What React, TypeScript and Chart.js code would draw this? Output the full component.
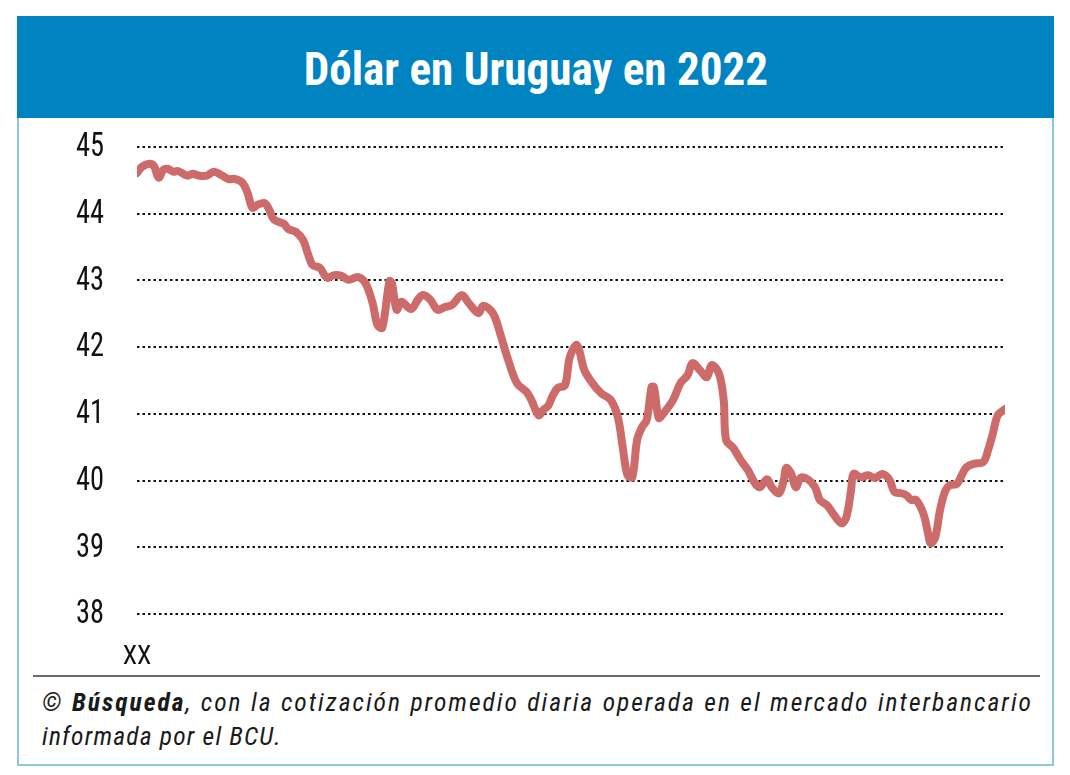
import React, { useEffect, useRef } from "react";
import { Chart, registerables } from "chart.js";

Chart.register(...registerables);

const TITLE = "Dólar en Uruguay en 2022";
const X_TICK_LABEL = "XX";
const Y_TICKS = [38, 39, 40, 41, 42, 43, 44, 45];

// day of year (2022)
const days = [
  3, 5, 8, 10, 12, 14, 16, 18, 20, 24, 26, 29, 32, 35, 38, 41, 44, 47, 49, 51,
  53, 56, 58, 60, 64, 66, 69, 72, 74, 76, 79, 82, 85, 88, 91, 95, 98, 101, 103, 105,
  108, 109, 111, 113, 117, 120, 122, 125, 128, 131, 134, 138, 141, 145, 147, 151, 154, 157, 161, 165,
  167, 170, 172, 174, 176, 178, 181, 183, 186, 189, 192, 196, 200, 203, 205, 207, 209, 211, 213, 215,
  217, 218, 220, 222, 226, 229, 232, 234, 237, 240, 242, 245, 247, 248, 251, 254, 257, 260, 262, 265,
  267, 270, 272, 273, 275, 277, 279, 282, 285, 287, 290, 293, 296, 298, 300, 301, 304, 307, 310, 313,
  316, 318, 321, 323, 325, 327, 330, 332, 333, 335, 337, 339, 341, 344, 346, 348, 351, 355, 357, 359,
  361, 364,
];

// average interbank rate (UYU per USD)
const rates = [
  44.61, 44.7, 44.75, 44.72, 44.54, 44.66, 44.67, 44.63, 44.64, 44.57, 44.6, 44.57, 44.57, 44.63, 44.58, 44.52, 44.52, 44.46, 44.31, 44.09,
  44.13, 44.16, 44.06, 43.91, 43.85, 43.77, 43.73, 43.61, 43.41, 43.23, 43.19, 43.04, 43.08, 43.07, 43.01, 43.05, 42.96, 42.66, 42.33, 42.29,
  42.99, 42.96, 42.56, 42.68, 42.57, 42.72, 42.78, 42.71, 42.56, 42.6, 42.63, 42.78, 42.66, 42.51, 42.62, 42.51, 42.21, 41.85, 41.46, 41.33,
  41.21, 40.98, 41.06, 41.12, 41.28, 41.39, 41.43, 41.85, 42.03, 41.66, 41.48, 41.31, 41.21, 40.95, 40.5, 40.08, 40.05, 40.61, 40.8, 40.91,
  41.4, 41.4, 40.94, 41.01, 41.21, 41.46, 41.58, 41.76, 41.66, 41.55, 41.73, 41.61, 41.21, 40.61, 40.49, 40.31, 40.16, 39.96, 39.9, 40.02,
  39.9, 39.81, 40.01, 40.19, 40.11, 39.9, 40.04, 40.02, 39.9, 39.71, 39.63, 39.48, 39.36, 39.45, 39.86, 40.1, 40.05, 40.08, 40.04, 40.1,
  40.01, 39.83, 39.81, 39.78, 39.71, 39.71, 39.51, 39.21, 39.06, 39.15, 39.56, 39.83, 39.93, 39.95, 40.08, 40.2, 40.25, 40.28, 40.46, 40.71,
  40.98, 41.07,
];

const COND = "'Roboto Condensed', 'Liberation Sans Narrow', 'DejaVu Sans Condensed', Roboto, sans-serif";

// draws the y tick labels (from the y scale) in a narrower, taller style
const condensedYLabels = {
  id: "condensedYLabels",
  afterDraw(chart: any) {
    const scale = chart.scales.y;
    const ctx = chart.ctx;
    ctx.save();
    ctx.font = `400 33px ${COND}`;
    ctx.fillStyle = "#111";
    ctx.textAlign = "right";
    ctx.textBaseline = "middle";
    for (const t of scale.ticks) {
      const py = scale.getPixelForValue(t.value);
      ctx.save();
      ctx.translate(scale.right - 33, py + 1);
      ctx.scale(0.86, 1);
      ctx.fillText(String(t.value), 0, 0);
      ctx.restore();
    }
    ctx.restore();
  },
};

export default function App() {
  const canvasRef = useRef<HTMLCanvasElement | null>(null);

  useEffect(() => {
    if (!canvasRef.current) return;
    const chart = new Chart(canvasRef.current, {
      type: "line",
      data: {
        datasets: [
          {
            data: days.map((d, i) => ({ x: d, y: rates[i] })),
            borderColor: "#cd6b6b",
            borderWidth: 8,
            pointRadius: 0,
            tension: 0.35,
            borderCapStyle: "round",
            borderJoinStyle: "round",
            fill: false,
          },
        ],
      },
      options: {
        animation: false,
        responsive: false,
        plugins: { legend: { display: false }, tooltip: { enabled: false } },
        layout: { padding: { top: 28, right: 47, left: 0, bottom: 0 } },
        scales: {
          x: {
            type: "linear",
            min: days[0],
            max: days[days.length - 1],
            grid: { display: false, drawTicks: false },
            border: { display: false },
            afterBuildTicks: (axis: any) => {
              axis.ticks = [{ value: days[0] }];
            },
            afterFit: (axis: any) => {
              axis.height = 60;
            },
            ticks: {
              callback: () => X_TICK_LABEL,
              color: "#111",
              padding: 28,
              maxRotation: 0,
              font: { family: COND, size: 26 },
            },
          },
          y: {
            min: Y_TICKS[0],
            max: Y_TICKS[Y_TICKS.length - 1],
            afterBuildTicks: (axis: any) => {
              axis.ticks = Y_TICKS.map((v) => ({ value: v }));
            },
            afterFit: (axis: any) => {
              axis.width = 118;
            },
            grid: { color: "#111", lineWidth: 2, drawTicks: false },
            border: { display: false, dash: [2.5, 3] },
            ticks: { display: false },
          },
        },
      },
      plugins: [condensedYLabels],
    });
    return () => chart.destroy();
  }, []);

  return (
    <div>
      <div
        style={{
          position: "absolute",
          left: 17,
          top: 16,
          width: 1037,
          height: 750,
          border: "2px solid #8ec5e2",
          boxSizing: "border-box",
          background: "#fff",
        }}
      />
      <div
        style={{
          position: "absolute",
          left: 17,
          top: 16,
          width: 1037,
          height: 102,
          background: "#0083c1",
          display: "flex",
          alignItems: "center",
          justifyContent: "center",
        }}
      >
        <div
          style={{
            color: "#fff",
            fontFamily: COND,
            fontWeight: 700,
            fontSize: 46,
            transform: "scaleX(0.98)",
            whiteSpace: "nowrap",
            marginTop: 4,
          }}
        >
          {TITLE}
        </div>
      </div>
      <canvas
        ref={canvasRef}
        width={1033}
        height={555}
        style={{ position: "absolute", left: 19, top: 119, width: 1033, height: 555 }}
      />
      <div
        style={{
          position: "absolute",
          left: 33,
          top: 675,
          width: 1007,
          height: 2,
          background: "#6b6b6b",
        }}
      />
      <div
        style={{
          position: "absolute",
          left: 42,
          top: 685,
          width: 991,
          fontFamily: COND,
          fontStyle: "italic",
          fontSize: 25.5,
          lineHeight: "34px",
          color: "#1a1a1a",
        }}
      >
        <div
          style={{
            textAlign: "justify",
            textAlignLast: "justify",
            whiteSpace: "nowrap",
            letterSpacing: 2,
          }}
        >
          © <b>Búsqueda</b>, con la cotización promedio diaria operada en el mercado interbancario
        </div>
        <div style={{ letterSpacing: 1.2 }}>informada por el BCU.</div>
      </div>
    </div>
  );
}
